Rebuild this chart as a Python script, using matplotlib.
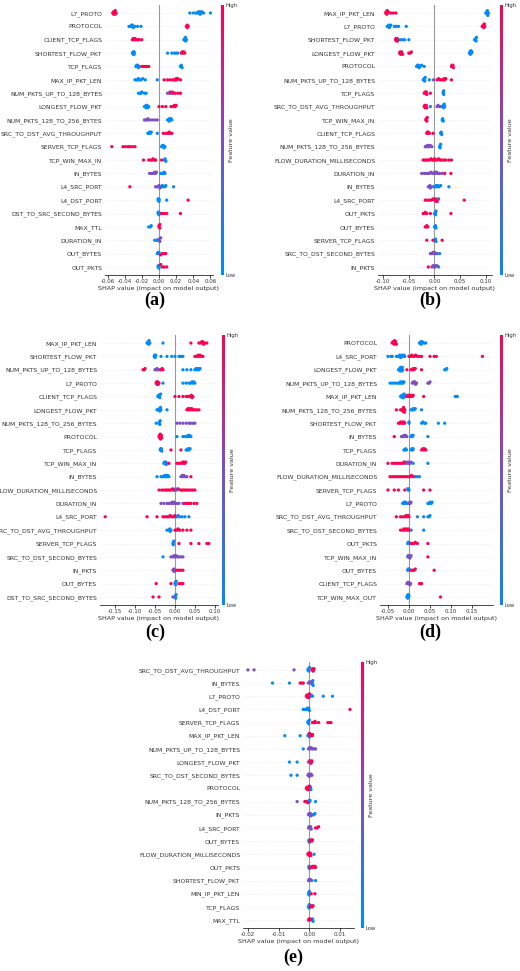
import numpy as np
import matplotlib
matplotlib.use("Agg")
import matplotlib.pyplot as plt
from matplotlib.colors import LinearSegmentedColormap
from matplotlib.cm import ScalarMappable

# ---------------- data: SHAP values per feature (low / mid / high feature value) ----------------
FEAT_A = ["L7_PROTO", "PROTOCOL", "CLIENT_TCP_FLAGS", "SHORTEST_FLOW_PKT", "TCP_FLAGS",
          "MAX_IP_PKT_LEN", "NUM_PKTS_UP_TO_128_BYTES", "LONGEST_FLOW_PKT",
          "NUM_PKTS_128_TO_256_BYTES", "SRC_TO_DST_AVG_THROUGHPUT", "SERVER_TCP_FLAGS",
          "TCP_WIN_MAX_IN", "IN_BYTES", "L4_SRC_PORT", "L4_DST_PORT", "DST_TO_SRC_SECOND_BYTES",
          "MAX_TTL", "DURATION_IN", "OUT_BYTES", "OUT_PKTS"]
LOW_A = [[0.036, 0.040, 0.043, 0.045, 0.046, 0.047, 0.048, 0.048, 0.049, 0.050, 0.052, 0.060],
         [-0.035, -0.033, -0.032, -0.031, -0.031, -0.030, -0.028, -0.025, -0.021],
         [0.029, 0.030, 0.030, 0.031, 0.031, 0.032],
         [-0.031, -0.030, -0.030, -0.029, -0.029, -0.029, 0.010, 0.015, 0.018, 0.020, 0.022],
         [-0.027, -0.026, -0.025, -0.025, -0.024, -0.023, 0.025, 0.026, 0.026, 0.027],
         [-0.028, -0.026, -0.025, -0.024, -0.023, -0.021, -0.019, -0.016, -0.002],
         [-0.024, -0.022, -0.021, -0.020, -0.017, -0.015],
         [-0.017, -0.016, -0.015, -0.015, -0.014, -0.014, -0.013, -0.012],
         [0.010, 0.011, 0.012, 0.012, 0.013, 0.014, 0.015],
         [-0.013, -0.012, -0.011, -0.010, -0.009, -0.002],
         [0.003, 0.004, 0.005, 0.005, 0.006, 0.007],
         [0.006, 0.007, 0.007, 0.008],
         [0.002, 0.004, 0.005, 0.006, 0.007],
         [0.002, 0.003, 0.004, 0.005, 0.007, 0.008, 0.017],
         [-0.001, -0.001, 0.000, 0.000, 0.000, 0.009],
         [-0.001, -0.001, 0.000, 0.000, 0.000],
         [-0.012, -0.010, -0.009],
         [-0.005, -0.003, -0.001, 0.000],
         [-0.002, -0.001, 0.000, 0.000],
         [-0.001, -0.001, 0.000, 0.000, 0.000]]
MID_A = [[], [], [], [], [], [], [0.010, 0.012, 0.014, 0.015, 0.016], [],
         [-0.017, -0.015, -0.014, -0.013, -0.011, -0.008, -0.005, -0.002], [], [], [],
         [-0.011, -0.009, -0.007, -0.006, -0.005, -0.004, -0.003], [-0.004, -0.002, 0.000, 0.001], [], [], [],
         [0.000, 0.001, 0.002], [], []]
HIGH_A = [[-0.054, -0.053, -0.053, -0.052, -0.052, -0.051, -0.051, -0.050],
          [0.032, 0.033, 0.033, 0.034],
          [-0.031, -0.030, -0.029, -0.028, -0.027, -0.025, -0.023, -0.020],
          [0.026, 0.027, 0.028, 0.029, 0.030],
          [-0.020, -0.018, -0.016, -0.014, -0.012],
          [0.006, 0.010, 0.013, 0.016, 0.018, 0.019, 0.020, 0.021, 0.022, 0.025],
          [0.013, 0.017, 0.019, 0.022, 0.025],
          [0.000, 0.004, 0.008, 0.014, 0.016, 0.017, 0.018, 0.019, 0.020],
          [],
          [0.005, 0.008, 0.010, 0.011, 0.012, 0.013, 0.015],
          [-0.055, -0.042, -0.039, -0.036, -0.034, -0.031, -0.028],
          [-0.018, -0.012, -0.010, -0.008, -0.007, -0.005, -0.004, 0.003],
          [], [-0.034],
          [0.034],
          [0.003, 0.005, 0.007, 0.009, 0.025],
          [0.000, 0.000, 0.001, 0.001],
          [],
          [0.002, 0.004, 0.006, 0.008],
          [0.002, 0.004, 0.006, 0.009]]

FEAT_B = ["MAX_IP_PKT_LEN", "L7_PROTO", "SHORTEST_FLOW_PKT", "LONGEST_FLOW_PKT", "PROTOCOL",
          "NUM_PKTS_UP_TO_128_BYTES", "TCP_FLAGS", "SRC_TO_DST_AVG_THROUGHPUT", "TCP_WIN_MAX_IN",
          "CLIENT_TCP_FLAGS", "NUM_PKTS_128_TO_256_BYTES", "FLOW_DURATION_MILLISECONDS",
          "DURATION_IN", "IN_BYTES", "L4_SRC_PORT", "OUT_PKTS", "OUT_BYTES", "SERVER_TCP_FLAGS",
          "SRC_TO_DST_SECOND_BYTES", "IN_PKTS"]
LOW_B = [[0.100, 0.101, 0.102, 0.103, 0.103, 0.104, 0.105],
         [-0.092, -0.090, -0.089, -0.088, -0.087, -0.085, -0.078, -0.074, -0.070, -0.055],
         [-0.070, -0.066, -0.062, -0.058, -0.050, 0.078, 0.079, 0.080, 0.081, 0.082],
         [0.068, 0.069, 0.070, 0.071, 0.072, 0.073],
         [-0.035, -0.033, -0.032, -0.031, -0.030, -0.028, -0.025, -0.020],
         [-0.022, -0.021, -0.020, -0.019, -0.018, -0.010],
         [0.017, 0.017, 0.018, 0.018],
         [-0.008, 0.014, 0.016, 0.017, 0.018, 0.019, 0.020],
         [0.015, 0.016, 0.016, 0.017],
         [0.012, 0.013, 0.013, 0.014],
         [0.010, 0.011, 0.011, 0.012],
         [],
         [],
         [-0.002, 0.001, 0.003, 0.005, 0.007, 0.009, 0.012, 0.028],
         [],
         [0.000, 0.001, 0.002, 0.002, 0.003],
         [0.000, 0.001, 0.002, 0.003],
         [0.000, 0.001, 0.002, 0.003],
         [0.010],
         [0.008]]
MID_B = [[], [], [], [], [], [-0.002], [], [0.005, 0.007, 0.010], [], [],
         [-0.018, -0.016, -0.014, -0.013, -0.012, -0.010, -0.008, -0.005], [],
         [-0.025, -0.020, -0.016, -0.013, -0.010, -0.007, -0.004, -0.002, 0.000, 0.002, 0.004, 0.007, 0.010, 0.015],
         [-0.012, -0.010, -0.009, -0.008, -0.006], [0.000, 0.002, 0.004, 0.006, 0.008], [], [], [],
         [-0.008, -0.005, -0.003, -0.001, 0.000, 0.002, 0.005],
         [-0.005, -0.003, -0.001, 0.000, 0.001, 0.003, 0.005]]
HIGH_B = [[-0.095, -0.094, -0.093, -0.092, -0.091, -0.090, -0.085, -0.080, -0.075],
          [0.093, 0.094, 0.095, 0.096, 0.097, 0.098],
          [-0.076, -0.075, -0.074, -0.073, -0.072],
          [-0.068, -0.067, -0.066, -0.065, -0.064, -0.062, -0.050, -0.047, -0.045],
          [0.033, 0.034, 0.035, 0.036, 0.037],
          [0.005, 0.008, 0.011, 0.014, 0.017, 0.019, 0.020, 0.022, 0.033],
          [-0.020, -0.018, -0.017, -0.016, -0.015, -0.008],
          [-0.020, -0.019, -0.018, -0.017, -0.016, -0.015],
          [-0.017, -0.016, -0.015, -0.014],
          [-0.015, -0.014, -0.013, -0.012, -0.010, -0.003],
          [],
          [-0.022, -0.019, -0.016, -0.013, -0.010, -0.007, -0.004, -0.002, 0.000, 0.002, 0.005, 0.008,
           0.011, 0.014, 0.018, 0.022, 0.028, 0.033],
          [0.020, 0.032],
          [],
          [-0.018, -0.014, -0.010, -0.006, -0.003, 0.000, 0.003, 0.005, 0.058],
          [-0.022, -0.020, -0.018, -0.015, -0.008, 0.032],
          [-0.018, -0.016, -0.015, -0.013],
          [-0.015, -0.003, 0.015],
          [],
          [-0.012]]

FEAT_C = ["MAX_IP_PKT_LEN", "SHORTEST_FLOW_PKT", "NUM_PKTS_UP_TO_128_BYTES", "L7_PROTO",
          "CLIENT_TCP_FLAGS", "LONGEST_FLOW_PKT", "NUM_PKTS_128_TO_256_BYTES", "PROTOCOL",
          "TCP_FLAGS", "TCP_WIN_MAX_IN", "IN_BYTES", "FLOW_DURATION_MILLISECONDS", "DURATION_IN",
          "L4_SRC_PORT", "SRC_TO_DST_AVG_THROUGHPUT", "SERVER_TCP_FLAGS", "SRC_TO_DST_SECOND_BYTES",
          "IN_PKTS", "OUT_BYTES", "DST_TO_SRC_SECOND_BYTES"]
LOW_C = [[-0.070, -0.068, -0.067, -0.066, -0.065, -0.063, -0.030],
         [-0.052, -0.051, -0.050, -0.049, -0.048, -0.035, -0.020, -0.008, 0.000, 0.010, 0.015, 0.020],
         [0.020, 0.030, 0.040, 0.050, 0.053, 0.056, 0.058, 0.060, 0.063],
         [-0.030, 0.020, 0.028, 0.035, 0.040, 0.043, 0.045, 0.047, 0.050],
         [-0.043, -0.041, -0.040, -0.039, -0.038, -0.036],
         [-0.045, -0.042, -0.040, -0.039, -0.038, -0.036, -0.035, -0.020],
         [-0.047, -0.040, -0.039, -0.038, -0.037],
         [0.005, 0.020, 0.026, 0.030, 0.033, 0.035, 0.037, 0.040],
         [-0.037, -0.036, -0.035, -0.034, -0.033, 0.028, 0.031, 0.033, 0.035, 0.038],
         [-0.028, -0.026, -0.025, -0.023, -0.022, -0.020],
         [-0.045, -0.035, -0.030, -0.026, -0.024, -0.022, -0.020, -0.018, -0.015],
         [0.000, 0.002, 0.005],
         [],
         [0.000, 0.005, 0.008, 0.012, 0.018, 0.025, 0.035],
         [-0.020, -0.015, -0.013, -0.012, -0.010],
         [-0.005, -0.004, -0.004, -0.003],
         [-0.030],
         [],
         [0.000, 0.001, 0.002, 0.003],
         [0.000, 0.001, 0.002, 0.003]]
MID_C = [[], [], [-0.050, -0.047, -0.045, -0.043, -0.040], [], [], [],
         [0.005, 0.012, 0.020, 0.028, 0.035, 0.040, 0.045, 0.050], [], [], [],
         [0.015, 0.018, 0.020, 0.022, 0.025, 0.030], [],
         [-0.035, -0.028, -0.020, -0.015, -0.010, -0.007, -0.005, -0.002, 0.000, 0.005, 0.010, 0.020], [], [], [],
         [-0.010, -0.005, -0.002, 0.000, 0.003, 0.006, 0.010, 0.015, 0.020],
         [-0.005, -0.003, -0.002, 0.000], [], [-0.005]]
HIGH_C = [[0.040, 0.060, 0.064, 0.067, 0.069, 0.070, 0.072, 0.075, 0.080],
          [0.050, 0.055, 0.058, 0.060, 0.063, 0.066, 0.070],
          [-0.080, -0.077, -0.075, -0.035, -0.032, -0.030],
          [-0.047, -0.046, -0.045, -0.044, -0.043, -0.042, -0.040],
          [0.000, 0.010, 0.020, 0.028, 0.033, 0.036, 0.039, 0.041, 0.043, 0.045],
          [0.030, 0.033, 0.035, 0.037, 0.039, 0.042, 0.046, 0.050, 0.055, 0.060],
          [],
          [-0.040, -0.039, -0.038, -0.037, -0.036, -0.035, -0.034, -0.033],
          [-0.010, 0.015],
          [-0.015, 0.005, 0.010, 0.015, 0.019, 0.021, 0.023, 0.025, 0.027],
          [0.040],
          [-0.040, -0.033, -0.027, -0.022, -0.018, -0.014, -0.010, -0.006, -0.003, 0.008, 0.014, 0.018,
           0.022, 0.026, 0.030, 0.035, 0.040, 0.045, 0.050],
          [0.025, 0.030, 0.035, 0.040, 0.048, 0.055],
          [-0.175, -0.070, -0.045, -0.030, -0.025, -0.020, -0.015, -0.012, -0.008, -0.004, 0.000],
          [0.000, 0.005, 0.008, 0.012, 0.020, 0.030, 0.040],
          [0.010, 0.040, 0.060, 0.080, 0.085],
          [],
          [0.005, 0.010, 0.015, 0.020],
          [-0.047, -0.010, 0.010, 0.015, 0.020],
          [-0.055, -0.040]]

FEAT_D = ["PROTOCOL", "L4_SRC_PORT", "LONGEST_FLOW_PKT", "NUM_PKTS_UP_TO_128_BYTES", "MAX_IP_PKT_LEN",
          "NUM_PKTS_128_TO_256_BYTES", "SHORTEST_FLOW_PKT", "IN_BYTES", "TCP_FLAGS", "DURATION_IN",
          "FLOW_DURATION_MILLISECONDS", "SERVER_TCP_FLAGS", "L7_PROTO", "SRC_TO_DST_AVG_THROUGHPUT",
          "SRC_TO_DST_SECOND_BYTES", "OUT_PKTS", "TCP_WIN_MAX_IN", "OUT_BYTES", "CLIENT_TCP_FLAGS",
          "TCP_WIN_MAX_OUT"]
LOW_D = [[0.025, 0.027, 0.028, 0.029, 0.030, 0.032, 0.036, 0.040],
         [-0.050, -0.043, -0.040, -0.030, -0.026, -0.024, -0.022, -0.020, -0.018, -0.016, -0.014, -0.012, -0.010],
         [-0.025, -0.023, -0.022, -0.021, -0.020, -0.019, -0.018, -0.017, -0.016, -0.015, 0.085, 0.088, 0.090],
         [-0.045, -0.040, -0.035, -0.030, -0.025, -0.022, -0.020, -0.018, -0.016, -0.014, -0.012],
         [-0.020, -0.018, -0.017, -0.016, -0.015, -0.014, -0.013, -0.012, -0.010, -0.008, 0.110, 0.113, 0.115],
         [0.005, 0.008, 0.010, 0.012, 0.015, 0.030],
         [0.000, 0.000, 0.030, 0.033, 0.037, 0.040, 0.070, 0.085],
         [0.005, 0.007, 0.008, 0.010, 0.045],
         [-0.012, -0.010, -0.008, -0.006, 0.005, 0.007, 0.009, 0.010],
         [0.010, 0.045],
         [0.015, 0.020, 0.025],
         [0.000, -0.001, -0.002, -0.003],
         [-0.015, -0.012, -0.010, -0.008, -0.005, 0.045, 0.048, 0.050, 0.053, 0.055],
         [0.020, 0.035, 0.045, 0.048, 0.050],
         [0.005, 0.035],
         [-0.003, -0.002, -0.001, 0.000],
         [-0.003, -0.002],
         [-0.003, -0.002, -0.001, 0.000],
         [],
         [-0.005, -0.004, -0.003, -0.002, -0.001, 0.000]]
MID_D = [[], [], [], [0.008, 0.010, 0.012, 0.014, 0.016, 0.018, 0.045, 0.048, 0.050], [],
         [-0.015, -0.012], [], [-0.018, -0.015, -0.012, -0.010, -0.008, -0.005], [],
         [-0.010, -0.008, -0.005, -0.002, 0.000, 0.003, 0.005], [], [], [0.000, 0.002, 0.003, 0.005],
         [], [], [], [-0.001, 0.000, 0.002, 0.003, 0.005], [], [-0.005, -0.003, -0.001, 0.000, 0.002, 0.004], []]
HIGH_D = [[-0.040, -0.038, -0.037, -0.036, -0.035, -0.034, -0.033, -0.032, -0.030],
          [0.000, 0.004, 0.007, 0.010, 0.013, 0.016, 0.020, 0.025, 0.030, 0.050, 0.060, 0.065, 0.175],
          [-0.005, 0.005, 0.008, 0.010, 0.012, 0.015, 0.030],
          [],
          [-0.005, -0.002, 0.000, 0.002, 0.004, 0.006, 0.008, 0.010, 0.035],
          [-0.030, -0.020, -0.017, -0.015, -0.013, -0.011, -0.010],
          [-0.025, -0.022, -0.020, -0.018, -0.016, -0.014, -0.012, -0.010],
          [-0.035],
          [0.030, 0.033, 0.035, 0.037, 0.040],
          [-0.050, -0.040, -0.035, -0.030, -0.025, -0.020, -0.015, -0.012],
          [-0.045, -0.040, -0.035, -0.030, -0.025, -0.020, -0.015, -0.010, -0.005, 0.000, 0.003, 0.006, 0.010],
          [-0.050, -0.035, -0.025, -0.010, 0.035, 0.050],
          [],
          [-0.030, -0.020, -0.015, -0.010, -0.007, -0.004, -0.002, 0.000],
          [-0.020, -0.015, -0.012, -0.010, -0.007, -0.004, -0.002, 0.000],
          [0.005, 0.008, 0.012, 0.015, 0.020, 0.045],
          [0.045],
          [0.005, 0.008, 0.012, 0.015, 0.060],
          [0.025, 0.027, 0.030],
          [0.075]]

FEAT_E = ["SRC_TO_DST_AVG_THROUGHPUT", "IN_BYTES", "L7_PROTO", "L4_DST_PORT", "SERVER_TCP_FLAGS",
          "MAX_IP_PKT_LEN", "NUM_PKTS_UP_TO_128_BYTES", "LONGEST_FLOW_PKT", "SRC_TO_DST_SECOND_BYTES",
          "PROTOCOL", "NUM_PKTS_128_TO_256_BYTES", "IN_PKTS", "L4_SRC_PORT", "OUT_BYTES",
          "FLOW_DURATION_MILLISECONDS", "OUT_PKTS", "SHORTEST_FLOW_PKT", "MIN_IP_PKT_LEN",
          "TCP_FLAGS", "MAX_TTL"]
LOW_E = [[-0.0005, -0.0003, -0.0002, 0.0000],
         [-0.0120, -0.0065, 0.0008, 0.0009, 0.0010, 0.0011, 0.0012],
         [0.0000, 0.0003, 0.0006, 0.0010, 0.0045, 0.0075],
         [-0.0020, -0.0015, -0.0010, -0.0007, -0.0004, -0.0002, 0.0000],
         [-0.0005, -0.0004, -0.0002, 0.0000],
         [-0.0080, -0.0030, -0.0005, -0.0003, 0.0000],
         [-0.0020],
         [-0.0065, -0.0040],
         [-0.0060, -0.0040],
         [0.0000, 0.0002, 0.0004, 0.0005],
         [-0.0003, -0.0001, 0.0001, 0.0002, 0.0020],
         [0.0010, 0.0014, 0.0018],
         [],
         [-0.0002, -0.0001, 0.0000],
         [0.0015],
         [-0.0002, -0.0001, 0.0000],
         [0.0008, 0.0020],
         [-0.0003, -0.0002, -0.0001, 0.0000],
         [-0.0003, -0.0002, -0.0001, 0.0000],
         [0.0008, 0.0010, 0.0012]]
MID_E = [[-0.0200, -0.0180, -0.0050], [-0.0003, 0.0000, 0.0003, 0.0005], [], [], [], [],
         [-0.0003, 0.0000, 0.0003, 0.0006, 0.0010, 0.0015, 0.0020], [-0.0003, 0.0000, 0.0003],
         [-0.0005, -0.0002, 0.0000, 0.0003, 0.0005, 0.0008], [], [-0.0040],
         [-0.0003, -0.0001, 0.0001, 0.0003, 0.0005], [-0.0003, -0.0001, 0.0001, 0.0004, 0.0006],
         [], [], [], [-0.0003, -0.0001, 0.0001, 0.0003], [], [], []]
HIGH_E = [[0.0008, 0.0010, 0.0012, 0.0014, 0.0015],
          [-0.0030, -0.0025, -0.0020],
          [-0.0010, -0.0008, -0.0006, -0.0004, -0.0002, 0.0000],
          [0.0132],
          [0.0010, 0.0014, 0.0018, 0.0020, 0.0030, 0.0060, 0.0065, 0.0070],
          [0.0000, 0.0003, 0.0006, 0.0009, 0.0010],
          [],
          [0.0003, 0.0005, 0.0007, 0.0008],
          [],
          [-0.0010, -0.0008, -0.0006, -0.0004, -0.0002, 0.0000],
          [-0.0015, -0.0010, -0.0005],
          [],
          [0.0020, 0.0025, 0.0030],
          [0.0002, 0.0005, 0.0008, 0.0010],
          [-0.0005, -0.0003, -0.0001, 0.0001, 0.0003, 0.0005],
          [0.0003, 0.0007, 0.0010, 0.0014, 0.0018, 0.0020],
          [],
          [0.0006, 0.0018],
          [0.0003, 0.0006, 0.0009, 0.0012],
          [-0.0003, -0.0001, 0.0001, 0.0003]]

TICKS_A = [-0.06, -0.04, -0.02, 0.00, 0.02, 0.04, 0.06]
TICKS_B = [-0.10, -0.05, 0.00, 0.05, 0.10]
TICKS_C = [-0.15, -0.10, -0.05, 0.00, 0.05, 0.10]
TICKS_D = [-0.05, 0.00, 0.05, 0.10, 0.15]
TICKS_E = [-0.02, -0.01, 0.00, 0.01]

# ---------------- layout (pixels of a 520x971 canvas) ----------------
W, H = 520, 971
cmap = LinearSegmentedColormap.from_list("shap", ["#008bfb", "#7c4fc1", "#ff0052"])

PANELS = [
    # feats, low, mid, high, ticks, xlim, ax box (l, t, r, b), colorbar x, label pos
    (FEAT_A, LOW_A, MID_A, HIGH_A, TICKS_A, (-0.063, 0.063), (105, 5, 213, 275), 221, (155, 300), "(a)"),
    (FEAT_B, LOW_B, MID_B, HIGH_B, TICKS_B, (-0.110, 0.112), (378, 5, 492, 275), 500, (430, 300), "(b)"),
    (FEAT_C, LOW_C, MID_C, HIGH_C, TICKS_C, (-0.188, 0.108), (100, 335, 218, 605), 222, (155, 632), "(c)"),
    (FEAT_D, LOW_D, MID_D, HIGH_D, TICKS_D, (-0.069, 0.200), (380, 335, 493, 605), 500, (430, 632), "(d)"),
    (FEAT_E, LOW_E, MID_E, HIGH_E, TICKS_E, (-0.0216, 0.0145), (243, 662, 354, 928), 361, (293, 957), "(e)"),
]

fig = plt.figure(figsize=(W / 100, H / 100), dpi=100)


def swarm(xs, xlim, nbins=60, step=0.09, cap=0.4):
    # simple beeswarm: stack points that fall in the same x bin
    xs = np.asarray(xs, dtype=float)
    bins = np.floor((xs - xlim[0]) / (xlim[1] - xlim[0]) * nbins).astype(int)
    ys = np.zeros(len(xs))
    for b in np.unique(bins):
        idx = np.where(bins == b)[0]
        for k, i in enumerate(idx):
            off = ((k + 1) // 2) * step * (1 if k % 2 else -1)
            ys[i] = np.clip(off, -cap, cap)
    return ys


for feats, low, mid, high, ticks, xlim, box, cbx, lab, name in PANELS:
    l, t, r, b = box
    ax = fig.add_axes([l / W, 1 - b / H, (r - l) / W, (b - t) / H])
    n = len(feats)
    ax.axvline(0, color="#999999", lw=0.8, zorder=1)
    for i in range(n):
        yrow = n - 1 - i
        ax.axhline(yrow, color="#dddddd", lw=0.4, ls=(0, (1, 2)), zorder=0)
        xs = list(low[i]) + list(mid[i]) + list(high[i])
        vs = [0.0] * len(low[i]) + [0.5] * len(mid[i]) + [1.0] * len(high[i])
        if not xs:
            continue
        ys = swarm(xs, xlim)
        ax.scatter(xs, yrow + ys, c=vs, cmap=cmap, vmin=0, vmax=1, s=5.5,
                   linewidths=0, zorder=3)
    ax.set_xlim(*xlim)
    ax.set_ylim(-0.6, n - 0.4)
    ax.set_yticks(range(n))
    ax.set_yticklabels(feats[::-1], fontsize=4.4, color="#333333")
    ax.tick_params(axis="y", length=0, pad=2)
    ax.set_xticks(ticks)
    ax.set_xticklabels([f"{v:.2f}" for v in ticks], fontsize=4.0, color="#333333")
    ax.tick_params(axis="x", length=2, width=0.5, pad=1)
    for s in ["top", "right", "left"]:
        ax.spines[s].set_visible(False)
    ax.spines["bottom"].set_linewidth(0.5)
    ax.set_xlabel("SHAP value (impact on model output)", fontsize=4.6, labelpad=1.5, color="#333333")

    # colorbar
    cax = fig.add_axes([cbx / W, 1 - (b) / H, 3 / W, (b - t) / H])
    cb = fig.colorbar(ScalarMappable(cmap=cmap), cax=cax, ticks=[0, 1])
    cb.outline.set_visible(False)
    cb.ax.set_yticklabels(["Low", "High"], fontsize=3.8, color="#333333")
    cb.ax.tick_params(length=0, pad=1)
    cb.set_label("Feature value", fontsize=4.6, labelpad=-6, color="#333333")

    fig.text(lab[0] / W, 1 - lab[1] / H, name, fontsize=13, fontweight="bold",
             family="Liberation Serif", ha="center", va="center")

fig.savefig("out.png", dpi=100)
